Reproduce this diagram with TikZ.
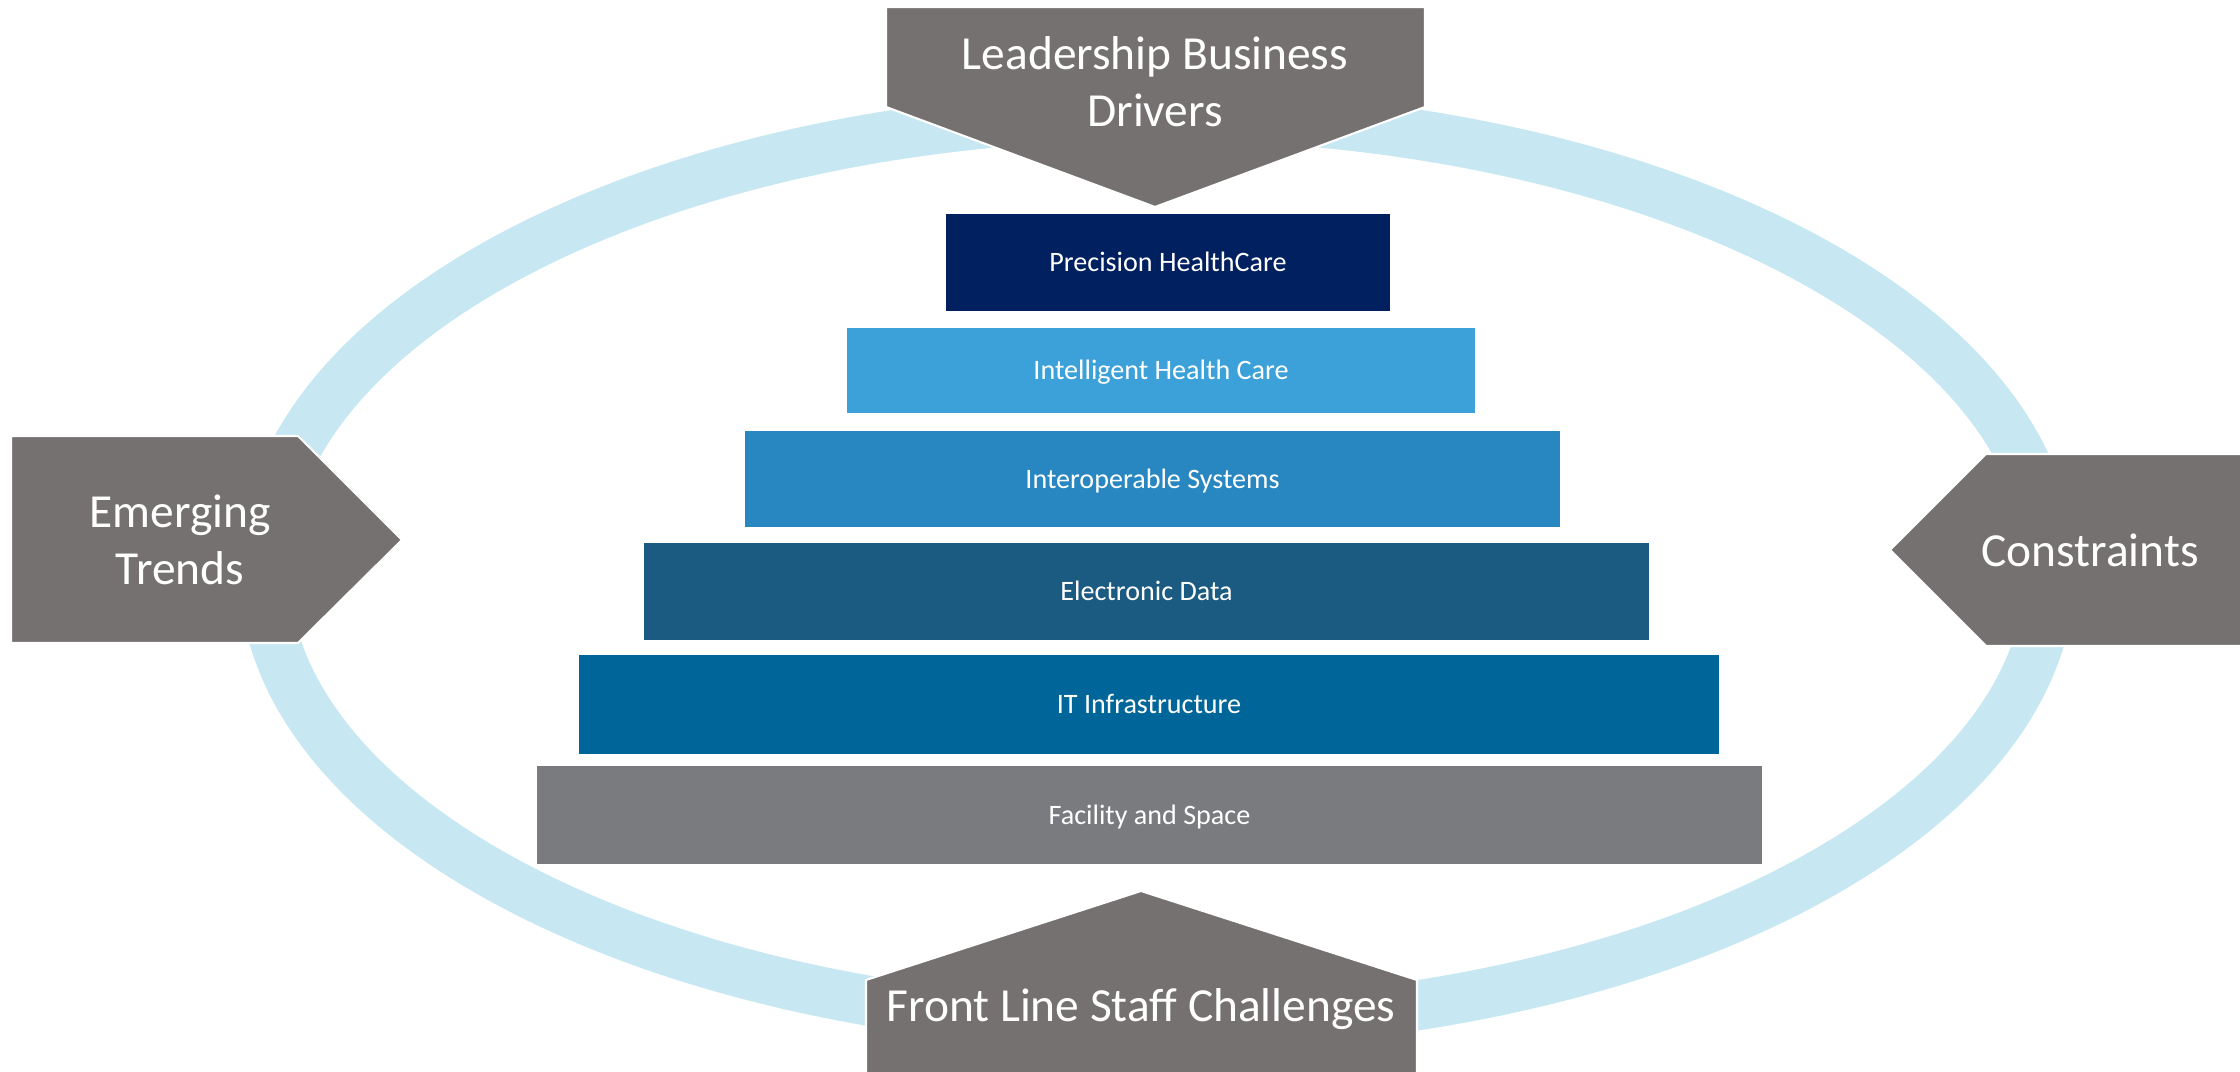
\documentclass[tikz,border=0pt]{standalone}
\usepackage{fontspec}
\setmainfont{Carlito}
\usepackage{tikz}

\definecolor{arrowgray}{HTML}{767171}
\definecolor{ringblue}{HTML}{C7E8F2}
\definecolor{tierone}{HTML}{002060}
\definecolor{tiertwo}{HTML}{3DA1D9}
\definecolor{tierthree}{HTML}{2887C1}
\definecolor{tierfour}{HTML}{1B5A81}
\definecolor{tierfive}{HTML}{006699}
\definecolor{tiersix}{HTML}{7A7B7F}

\begin{document}
\begin{tikzpicture}[every node/.style={outer sep=0pt, inner sep=0pt, text=white},
  tier/.style={font=\fontsize{8}{9.6}\selectfont, text height=5.2pt, text depth=0pt},
  driver/.style={align=center, font=\fontsize{13.5}{16.2}\selectfont},
  pointer/.style={fill=arrowgray, draw=white, line width=0.6pt}]
\useasboundingbox (0,0) rectangle (22.4,10.72);

\draw[ringblue, line width=0.5cm] (11.57,5.02) ellipse (8.93 and 4.55);

\draw[pointer] (8.86,10.65) -- (14.25,10.65) -- (14.25,9.65) -- (11.55,8.65) -- (8.86,9.65) -- cycle;
\draw[pointer] (0.11,6.36) -- (2.98,6.36) -- (4.02,5.32) -- (2.98,4.29) -- (0.11,4.29) -- cycle;
\draw[pointer] (22.5,6.18) -- (19.86,6.18) -- (18.90,5.22) -- (19.86,4.26) -- (22.5,4.26) -- cycle;
\draw[pointer] (8.66,-0.1) -- (8.66,0.92) -- (11.41,1.81) -- (14.17,0.92) -- (14.17,-0.1) -- cycle;

\node[driver] (leadership) at (11.55,9.9) {Leadership Business\\Drivers};
\node[driver] (trends) at (1.80,5.32) {Emerging\\Trends};
\node[driver] (constraints) at (20.90,5.22) {Constraints};
\node[driver] (staff) at (11.41,0.63) {Front Line Staff Challenges};

\node[tier, fill=tierone, minimum width=4.44cm, minimum height=0.97cm] (precision) at (11.68,8.095) {Precision HealthCare};
\node[tier, fill=tiertwo, minimum width=6.28cm, minimum height=0.85cm] (intelligent) at (11.61,7.015) {Intelligent Health Care};
\node[tier, fill=tierthree, minimum width=8.15cm, minimum height=0.96cm] (interop) at (11.525,5.93) {Interoperable Systems};
\node[tier, fill=tierfour, minimum width=10.05cm, minimum height=0.97cm] (edata) at (11.465,4.805) {Electronic Data};
\node[tier, fill=tierfive, minimum width=11.40cm, minimum height=0.99cm] (infra) at (11.49,3.675) {IT Infrastructure};
\node[tier, fill=tiersix, minimum width=12.25cm, minimum height=0.98cm] (facility) at (11.495,2.57) {Facility and Space};
\end{tikzpicture}
\end{document}
